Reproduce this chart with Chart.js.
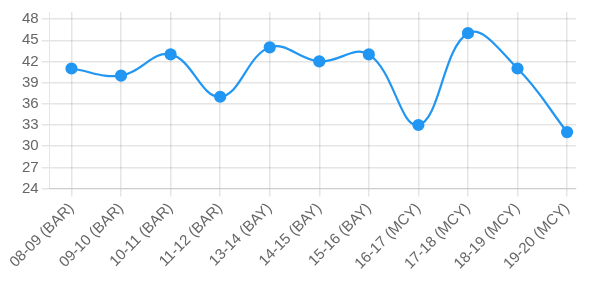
<!DOCTYPE html>
<html>
<head>
<meta charset="utf-8">
<script src="https://cdn.jsdelivr.net/npm/chart.js@4"></script>
<style>
    html, body { margin: 0; padding: 0; background: #fff; }
    #wrap { width: 592px; height: 289px; }
</style>
</head>
<body>
<div id="wrap"><canvas id="lineChart"></canvas></div>
<script>
const seasons = ['08-09 (BAR)', '09-10 (BAR)', '10-11 (BAR)', '11-12 (BAR)', '13-14 (BAY)', '14-15 (BAY)',
    '15-16 (BAY)', '16-17 (MCY)', '17-18 (MCY)', '18-19 (MCY)', '19-20 (MCY)'];
const values = [41, 40, 43, 37, 44, 42, 43, 33, 46, 41, 32];
const yMin = 24;
const yMax = 49;
const yStep = 3;

const blue = 'rgb(33, 150, 243)';

Chart.defaults.font.family = '"Liberation Sans", Arial, sans-serif';
Chart.defaults.font.size = 15;
Chart.defaults.color = '#666';

// x is numeric (season index) so the first point sits inside the axis like the original
const points = values.map((v, i) => ({ x: i, y: v }));

const ctx = document.getElementById('lineChart').getContext('2d');
new Chart(ctx, {
    type: 'line',
    data: {
        datasets: [{
            data: points,
            borderColor: blue,
            backgroundColor: blue,
            pointBackgroundColor: blue,
            pointBorderColor: blue,
            pointRadius: 5,
            borderWidth: 2.2,
            tension: 0.4,
            fill: false
        }]
    },
    options: {
        responsive: true,
        maintainAspectRatio: false,
        animation: false,
        layout: { padding: { left: 19, right: 16, bottom: 13 } },
        plugins: {
            legend: { display: false },
            tooltip: { enabled: false }
        },
        scales: {
            x: {
                type: 'linear',
                min: -0.44,
                max: 10.18,
                afterBuildTicks: axis => {
                    axis.ticks = seasons.map((s, i) => ({ value: i }));
                },
                grid: { color: 'rgba(0,0,0,0.1)', lineWidth: 1.5 },
                ticks: {
                    minRotation: 45,
                    maxRotation: 45,
                    callback: v => seasons[v]
                }
            },
            y: {
                min: yMin,
                max: yMax,
                grid: { color: 'rgba(0,0,0,0.1)', lineWidth: 1.5 },
                ticks: { stepSize: yStep, includeBounds: false }
            }
        }
    }
});
</script>
</body>
</html>
